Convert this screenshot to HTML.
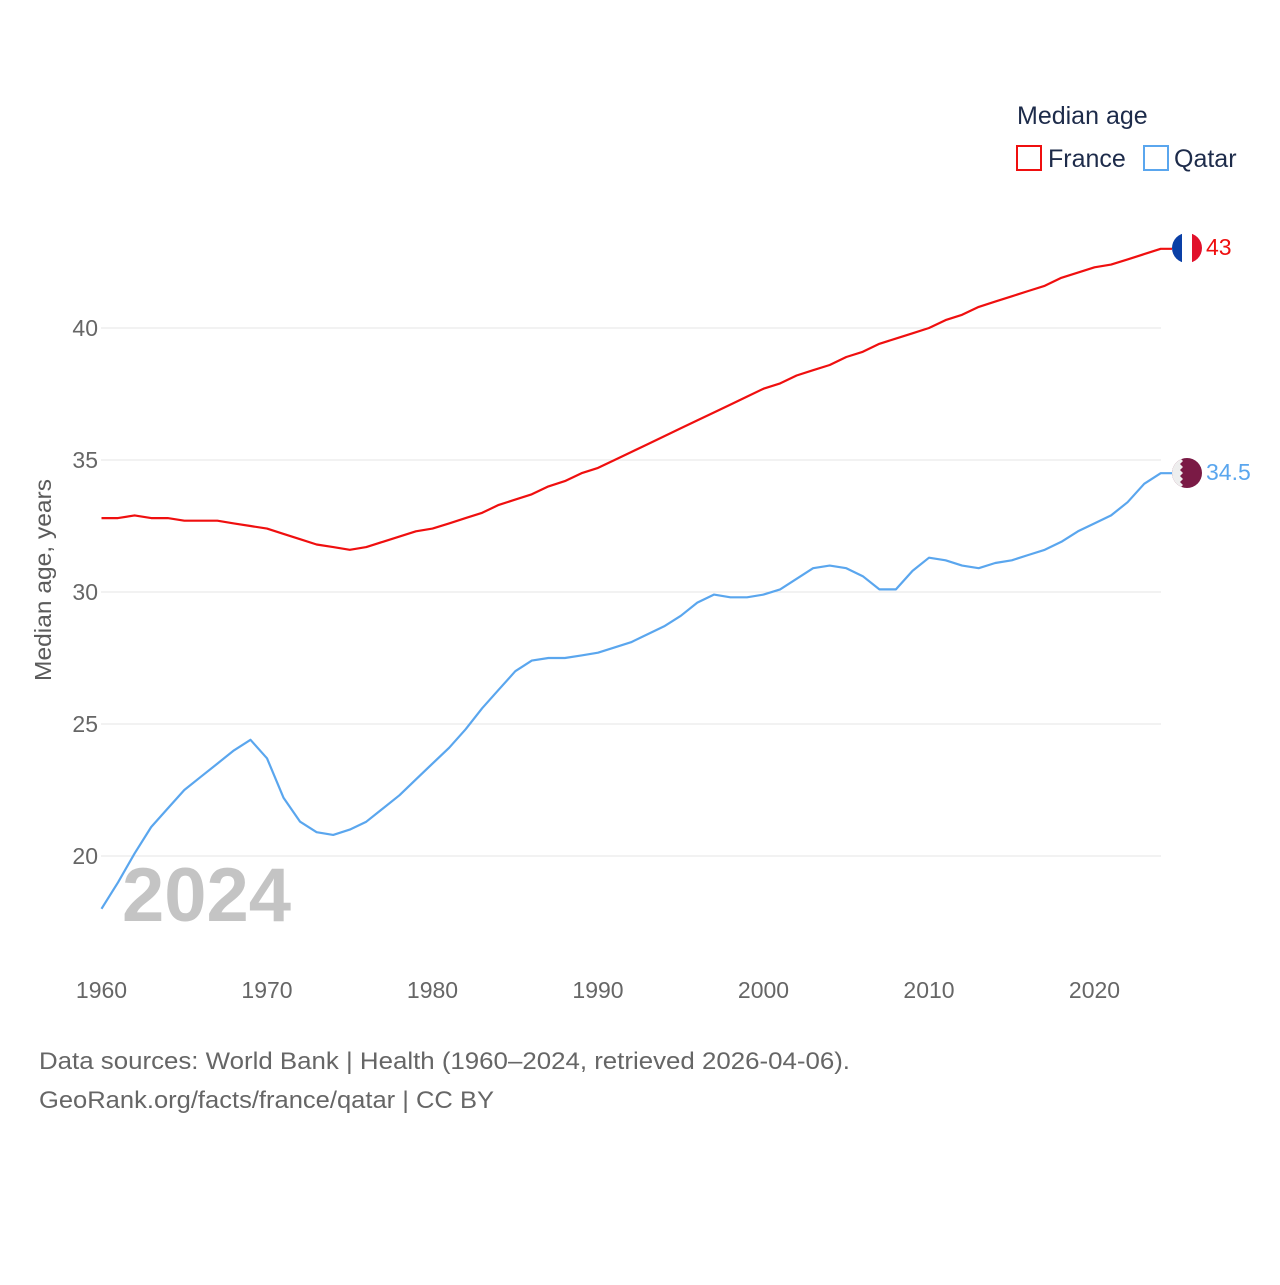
<!DOCTYPE html>
<html><head><meta charset="utf-8"><style>
body{margin:0;background:#fff;font-family:"Liberation Sans",sans-serif}
svg text{font-family:"Liberation Sans",sans-serif}
</style></head><body>
<svg id="chart" width="1280" height="1280" viewBox="0 0 1280 1280" xmlns="http://www.w3.org/2000/svg">
<rect width="1280" height="1280" fill="#fff"/>
<g id="grid"></g>
<g id="yticks"></g>
<g id="xticks"></g>
<text transform="translate(51,580) rotate(-90)" text-anchor="middle" font-size="23" fill="#5b5b5b" textLength="202" lengthAdjust="spacingAndGlyphs">Median age, years</text>
<text x="122" y="921" font-size="76" font-weight="bold" fill="#c4c4c4">2024</text>
<g id="series"></g>
<g>
<text x="1017" y="124" font-size="25" fill="#1d2b4a">Median age</text>
<rect x="1017" y="146" width="24" height="24" fill="none" stroke="#ef0f0f" stroke-width="2"/>
<text x="1048" y="167" font-size="25" fill="#1d2b4a">France</text>
<rect x="1144" y="146" width="24" height="24" fill="none" stroke="#5aa6ee" stroke-width="2"/>
<text x="1174" y="167" font-size="25" fill="#1d2b4a">Qatar</text>
</g>
<g>
<clipPath id="cf"><circle cx="1187" cy="248" r="15"/></clipPath>
<g clip-path="url(#cf)"><rect x="1172" y="233" width="10" height="30" fill="#0a3fa6"/><rect x="1182" y="233" width="10" height="30" fill="#fff"/><rect x="1192" y="233" width="10" height="30" fill="#e1112b"/></g>
</g>
<text x="1206" y="255" font-size="23" fill="#ef0f0f">43</text>
<g>
<clipPath id="cq"><circle cx="1187" cy="473" r="15"/></clipPath>
<g clip-path="url(#cq)"><rect x="1172" y="458" width="30" height="30" fill="#7a1a45"/><polygon points="1172,458 1180,458 1183,461 1180,464 1183,467 1180,470 1183,473 1180,476 1183,479 1180,482 1183,485 1180,488 1172,488" fill="#eee"/></g>
</g>
<text x="1206" y="480" font-size="23" fill="#5aa6ee">34.5</text>
<text x="39" y="1069" font-size="24" fill="#666" textLength="811" lengthAdjust="spacingAndGlyphs">Data sources: World Bank | Health (1960–2024, retrieved 2026-04-06).</text>
<text x="39" y="1108" font-size="24" fill="#666" textLength="455" lengthAdjust="spacingAndGlyphs">GeoRank.org/facts/france/qatar | CC BY</text>
</svg>
<script>
const years = [];
for (let y = 1960; y <= 2024; y++) years.push(y);
const franceValues = [32.8,32.8,32.9,32.8,32.8,32.7,32.7,32.7,32.6,32.5,32.4,32.2,32.0,31.8,31.7,31.6,31.7,31.9,32.1,32.3,32.4,32.6,32.8,33.0,33.3,33.5,33.7,34.0,34.2,34.5,34.7,35.0,35.3,35.6,35.9,36.2,36.5,36.8,37.1,37.4,37.7,37.9,38.2,38.4,38.6,38.9,39.1,39.4,39.6,39.8,40.0,40.3,40.5,40.8,41.0,41.2,41.4,41.6,41.9,42.1,42.3,42.4,42.6,42.8,43.0];
const qatarValues = [18.0,19.0,20.1,21.1,21.8,22.5,23.0,23.5,24.0,24.4,23.7,22.2,21.3,20.9,20.8,21.0,21.3,21.8,22.3,22.9,23.5,24.1,24.8,25.6,26.3,27.0,27.4,27.5,27.5,27.6,27.7,27.9,28.1,28.4,28.7,29.1,29.6,29.9,29.8,29.8,29.9,30.1,30.5,30.9,31.0,30.9,30.6,30.1,30.1,30.8,31.3,31.2,31.0,30.9,31.1,31.2,31.4,31.6,31.9,32.3,32.6,32.9,33.4,34.1,34.5];
const yTicks = [20,25,30,35,40];
const xTicks = [1960,1970,1980,1990,2000,2010,2020];

const NS = 'http://www.w3.org/2000/svg';
const xScale = v => 101.5 + (v - 1960) * 16.55;
const yScale = v => 592 - (v - 30) * 26.4;
function mk(tag, attrs, parent){const e=document.createElementNS(NS,tag);for(const k in attrs)e.setAttribute(k,attrs[k]);parent.appendChild(e);return e;}
const grid=document.getElementById('grid'), yt=document.getElementById('yticks'), xt=document.getElementById('xticks'), ser=document.getElementById('series');
yTicks.forEach(t=>{
  const l=mk('line',{x1:101,x2:1161,y1:yScale(t),y2:yScale(t),stroke:'#e6e6e6','stroke-width':1},grid);
  
  
  const tx=mk('text',{x:98,y:yScale(t)+8,'text-anchor':'end','font-size':23,fill:'#666'},yt);
  tx.textContent=t;
  
  
});
xTicks.forEach(t=>{
  const tx=mk('text',{x:xScale(t),y:998,'text-anchor':'middle','font-size':23,fill:'#666'},xt);
  tx.textContent=t;
  
  
});
function line(vals,color,name){
  let d=vals.map((v,i)=>(i?'L':'M')+xScale(years[i]).toFixed(1)+','+yScale(v).toFixed(1)).join(' ');
  d += ' H1172';
  const p=mk('path',{d:d,fill:'none',stroke:color,'stroke-width':2.2,'stroke-linejoin':'round'},ser);
  
  
}
line(franceValues,'#ef0f0f','france-line');
line(qatarValues,'#5aa6ee','qatar-line');
</script>
</body></html>
